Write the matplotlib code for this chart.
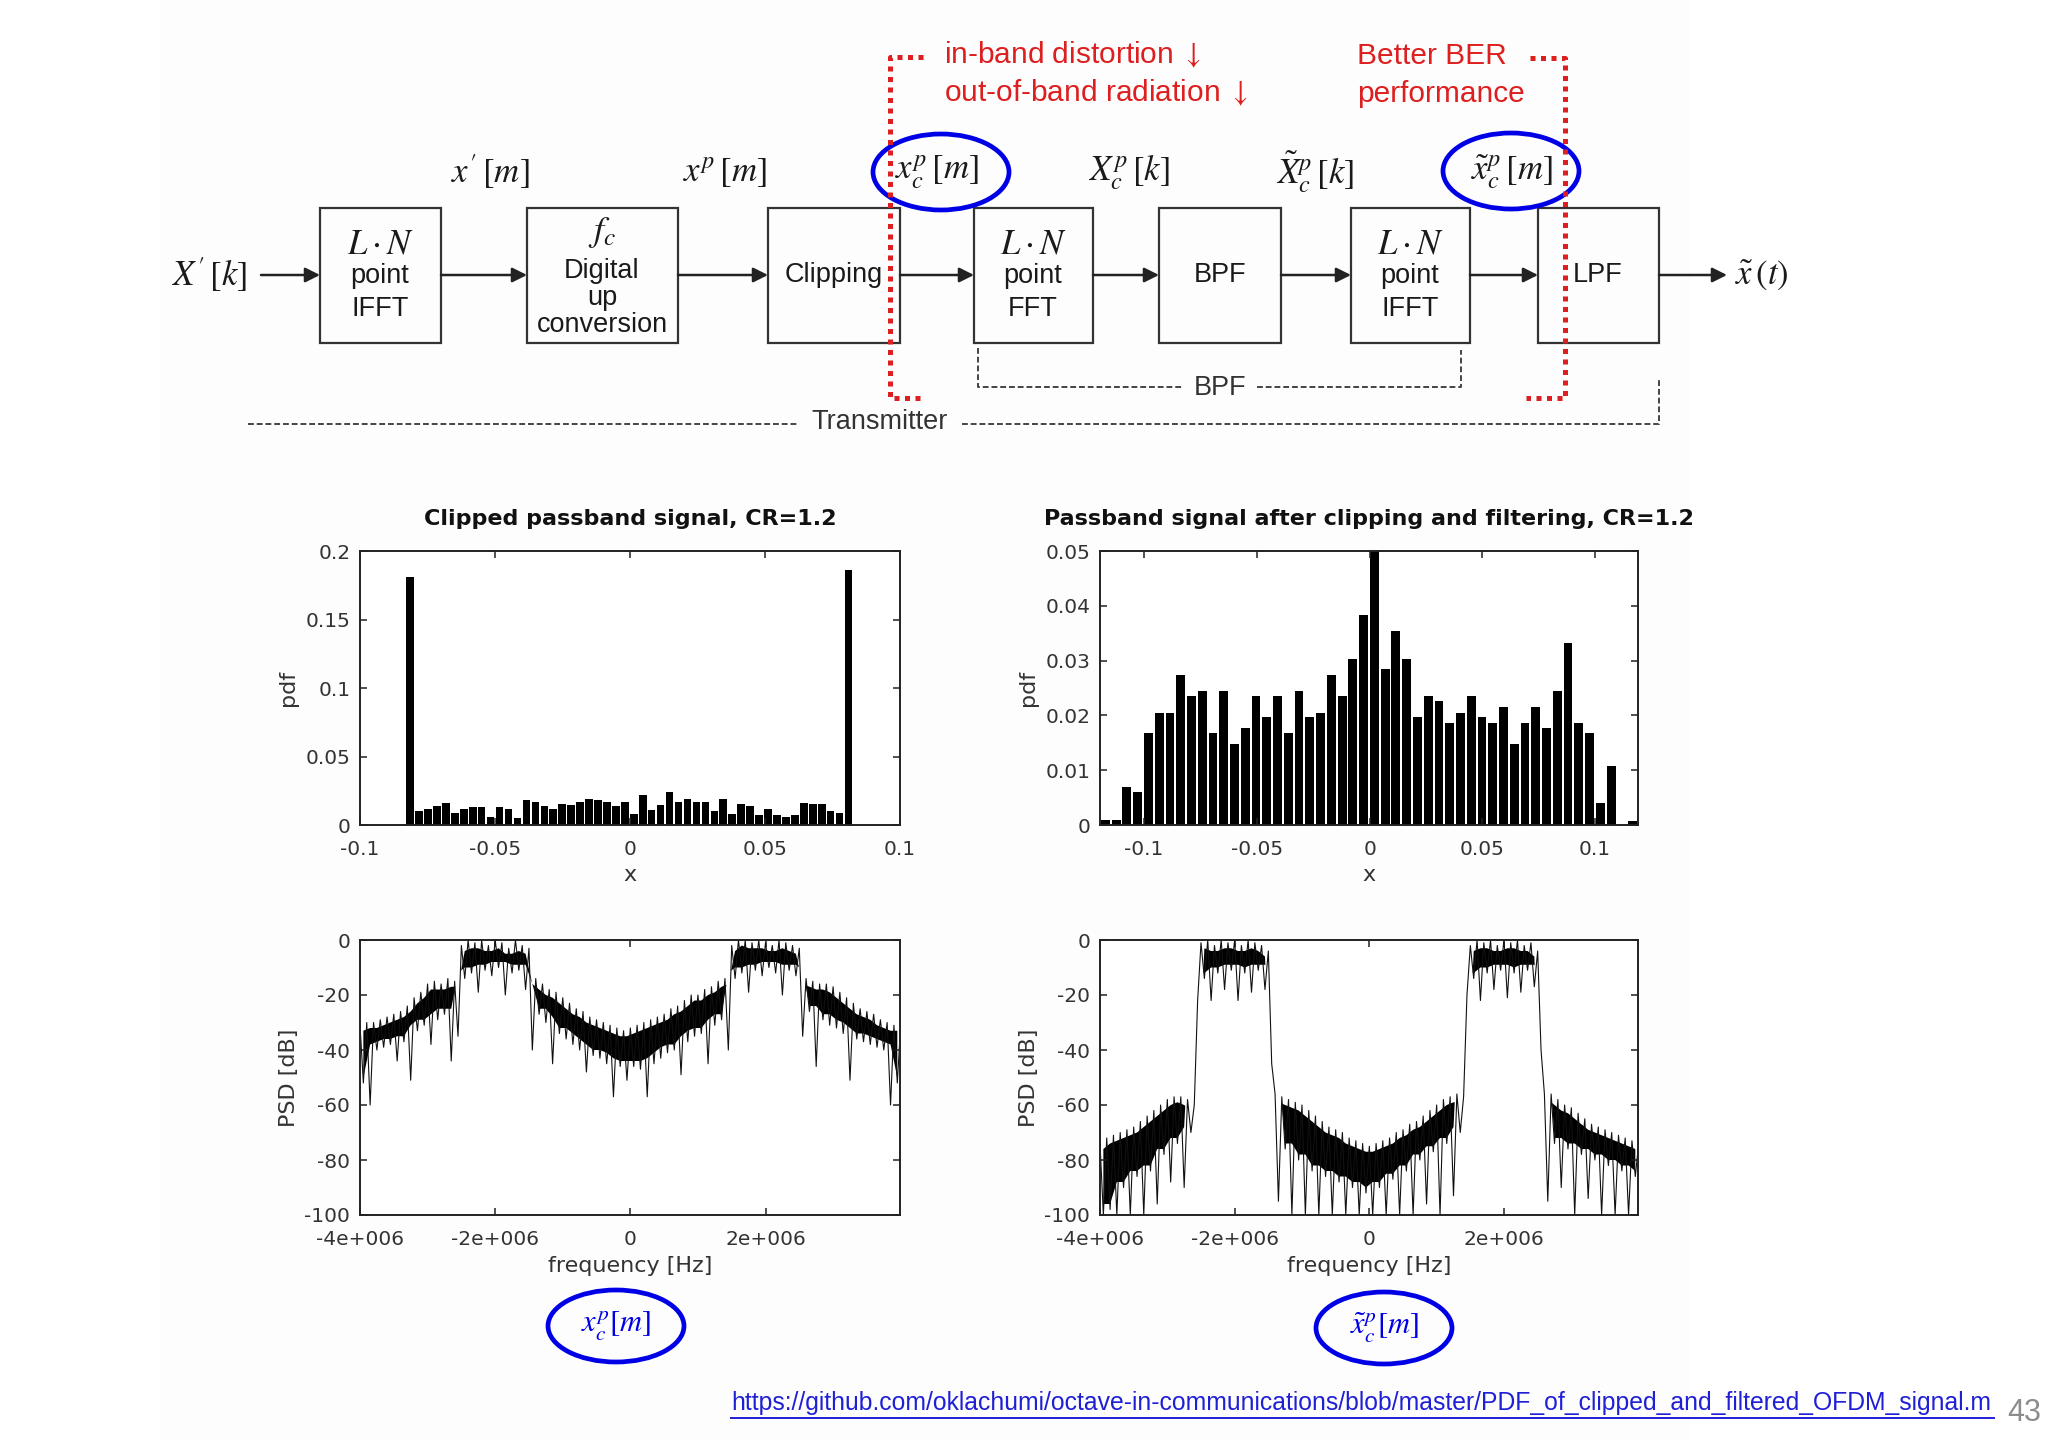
import numpy as np
import matplotlib
matplotlib.use('Agg')
import matplotlib.pyplot as plt
from matplotlib.patches import Rectangle, Ellipse, FancyArrowPatch

plt.rcParams['font.family'] = ['DejaVu Sans']
plt.rcParams['mathtext.fontset'] = 'stix'

# ---------------- data ----------------
# histogram of clipped passband signal (50 bins)
clip_hist_range = (-0.0831, 0.0826)
clip_hist_pdf = [0.181, 0.0101, 0.012, 0.014, 0.016, 0.009, 0.012, 0.013, 0.013, 0.006,
                 0.013, 0.012, 0.005, 0.018, 0.017, 0.014, 0.012, 0.015, 0.0145, 0.017,
                 0.019, 0.018, 0.017, 0.014, 0.017, 0.008, 0.022, 0.011, 0.0145, 0.024,
                 0.017, 0.019, 0.017, 0.017, 0.010, 0.019, 0.008, 0.015, 0.014, 0.007,
                 0.0115, 0.007, 0.006, 0.007, 0.016, 0.015, 0.015, 0.0105, 0.009, 0.186]

# histogram of clipped + filtered passband signal (50 bins)
filt_hist_range = (-0.1195, 0.119)
filt_hist_pdf = [0.001, 0.001, 0.0069, 0.006, 0.0167, 0.0205, 0.0205, 0.0274, 0.0236, 0.0245,
                 0.0167, 0.0245, 0.0148, 0.0177, 0.0236, 0.0197, 0.0236, 0.0167, 0.0245, 0.0197,
                 0.0205, 0.0274, 0.0236, 0.0303, 0.0383, 0.052, 0.0284, 0.0354, 0.0303, 0.0197,
                 0.0236, 0.0226, 0.0186, 0.0205, 0.0236, 0.0197, 0.0186, 0.0215, 0.0148, 0.0186,
                 0.0215, 0.0177, 0.0245, 0.0333, 0.0186, 0.0167, 0.0041, 0.0108, 0.0, 0.0008]

# PSD [dB]: local peaks on a 0.1 MHz grid from -4 MHz, troughs half-way between
psd_f0 = -4.0e6
psd_df = 0.1e6
clip_psd_peak = [-31, -30, -30, -29, -28, -27, -26, -24, -21, -19,
                 -16, -15, -16, -14, -15, -2, 0, -1, 0, -2,
                 0, -1, -3, 0, -2, -3, -14, -16, -18, -19,
                 -21, -23, -25, -26, -28, -29, -30, -31, -32, -33,
                 -32, -31, -30, -29, -28, -27, -25, -24, -22, -20,
                 -20, -18, -17, -15, -14, -2, 0, 0, -1, 0,
                 -1, -2, 0, -1, -2, -3, -14, -15, -16, -16,
                 -17, -19, -21, -23, -25, -26, -27, -29, -30, -31, -31]
clip_psd_trough = [-52, -60, -40, -39, -38, -44, -37, -51, -33, -31,
                   -38, -29, -27, -44, -35, -14, -12, -19, -11, -13,
                   -10, -20, -12, -11, -18, -40, -27, -30, -45, -34,
                   -36, -38, -40, -48, -42, -43, -45, -57, -46, -51,
                   -46, -47, -57, -45, -43, -41, -40, -49, -37, -35,
                   -34, -45, -31, -29, -40, -14, -12, -19, -11, -13,
                   -10, -12, -20, -11, -13, -35, -26, -46, -29, -31,
                   -32, -34, -51, -36, -37, -38, -39, -40, -60, -52]
filt_psd_peak = [-74, -72, -71, -70, -69, -68, -66, -64, -62, -60,
                 -58, -57, -57, -58, -60, -1, 0, -2, 0, -1,
                 0, -2, 0, -1, -2, -4, -56, -57, -58, -59,
                 -60, -62, -64, -66, -68, -69, -70, -72, -73, -74,
                 -75, -74, -73, -72, -70, -69, -67, -66, -64, -62,
                 -60, -58, -57, -56, -57, -2, 0, -1, 0, -2,
                 0, -1, 0, -2, -1, -4, -56, -56, -58, -60,
                 -61, -63, -65, -67, -68, -69, -70, -71, -72, -73, -74]
filt_psd_trough = [-100, -98, -100, -90, -100, -86, -100, -84, -96, -78,
                   -88, -74, -90, -70, -22, -14, -22, -12, -18, -11,
                   -22, -12, -19, -11, -18, -45, -95, -76, -100, -80,
                   -100, -84, -100, -86, -100, -88, -100, -90, -100, -92,
                   -100, -90, -100, -87, -100, -84, -100, -80, -96, -77,
                   -100, -74, -93, -70, -20, -14, -22, -12, -18, -11,
                   -21, -12, -19, -11, -17, -40, -95, -74, -90, -76,
                   -100, -78, -94, -80, -100, -82, -100, -84, -100, -86]

clip_title = 'Clipped passband signal, CR=1.2'
filt_title = 'Passband signal after clipping and filtering, CR=1.2'
url_text = 'https://github.com/oklachumi/octave-in-communications/blob/master/PDF_of_clipped_and_filtered_OFDM_signal.m'

# ---------------- figure ----------------
W, H = 2048, 1447
fig = plt.figure(figsize=(W / 100, H / 100), dpi=100)
fig.patch.set_facecolor('white')

bg = fig.add_axes([0, 0, 1, 1], zorder=0)
bg.set_xlim(0, W)
bg.set_ylim(H, 0)
bg.axis('off')
bg.add_patch(Rectangle((160, 0), 1530, 1440, facecolor='#fdfdfd', edgecolor='none', zorder=0))

TXT = '#1a1a1a'
BOXC = '#333333'
SANS = ['Liberation Sans', 'DejaVu Sans']
BFS = 19.5

boxes = [(320, 441), (527, 678), (768, 900), (974, 1093), (1159, 1281), (1351, 1470), (1538, 1659)]
by0, by1 = 208, 343
for x0, x1 in boxes:
    bg.add_patch(Rectangle((x0, by0), x1 - x0, by1 - by0, fill=False, edgecolor=BOXC, lw=1.6, zorder=2))

ay = 275
arrows = [(261, 320), (441, 527), (678, 768), (900, 974), (1093, 1159), (1281, 1351), (1470, 1538), (1659, 1727)]
for a0, a1 in arrows:
    bg.add_patch(FancyArrowPatch((a0, ay), (a1, ay), arrowstyle='-|>', mutation_scale=22,
                                 color='#222222', lw=1.8, shrinkA=0, shrinkB=0, zorder=3))

def ln_box(cx, bottom_word):
    bg.text(cx, 243, r'$L\cdot N$', ha='center', va='center', fontsize=25, color=TXT)
    bg.text(cx, 276, 'point', ha='center', va='center', fontsize=BFS, color=TXT, family=SANS)
    bg.text(cx, 309, bottom_word, ha='center', va='center', fontsize=BFS, color=TXT, family=SANS)

ln_box(380, 'IFFT')
ln_box(1033, 'FFT')
ln_box(1410, 'IFFT')
bg.text(602, 232, r'$f_c$', ha='center', va='center', fontsize=26, color=TXT)
bg.text(602, 271, 'Digital', ha='center', va='center', fontsize=BFS, color=TXT, family=SANS)
bg.text(602, 298, 'up', ha='center', va='center', fontsize=BFS, color=TXT, family=SANS)
bg.text(602, 325, 'conversion', ha='center', va='center', fontsize=BFS, color=TXT, family=SANS)
bg.text(834, 275, 'Clipping', ha='center', va='center', fontsize=BFS, color=TXT, family=SANS)
bg.text(1220, 275, 'BPF', ha='center', va='center', fontsize=BFS, color=TXT, family=SANS)
bg.text(1598, 275, 'LPF', ha='center', va='center', fontsize=BFS, color=TXT, family=SANS)

bg.text(209, 275, r"$X'\,\left[k\right]$", ha='center', va='center', fontsize=25, color=TXT)
bg.text(1762, 275, r'$\tilde{x}\,\left(t\right)$', ha='center', va='center', fontsize=25, color=TXT)
sig_labels = [(490, r"$x'\,\left[m\right]$"), (725, r'$x^{p}\,\left[m\right]$'),
              (937, r'$x^{p}_{c}\,\left[m\right]$'), (1129, r'$X^{p}_{c}\,\left[k\right]$'),
              (1315, r'$\tilde{X}^{p}_{c}\,\left[k\right]$'), (1512, r'$\tilde{x}^{p}_{c}\,\left[m\right]$')]
for sx, s in sig_labels:
    bg.text(sx, 172, s, ha='center', va='center', fontsize=25, color=TXT)

BLUE = '#0000e6'
for cx, cy in [(941, 172), (1511, 171)]:
    bg.add_patch(Ellipse((cx, cy), 136, 76, fill=False, edgecolor=BLUE, lw=3.4, zorder=5))

# dashed brackets
DASH = dict(color='#444444', lw=1.4, linestyle=(0, (3, 1.5)), zorder=2)
bg.plot([978, 978, 1184], [348, 387, 387], **DASH)
bg.plot([1257, 1461, 1461], [387, 387, 350], **DASH)
bg.text(1220, 388, 'BPF', ha='center', va='center', fontsize=BFS, color='#333333', family=SANS)
bg.plot([248, 797], [424, 424], **DASH)
bg.plot([962, 1659, 1659], [424, 424, 380], **DASH)
bg.text(880, 422, 'Transmitter', ha='center', va='center', fontsize=BFS, color='#333333', family=SANS)

# red dotted brackets
RED = '#dd1f1f'
RDOT = dict(color=RED, lw=3.6, linestyle=(0, (1, 1.1)), solid_capstyle='butt',
            dash_capstyle='butt', zorder=6)
bg.plot([923, 890, 890, 923], [57, 57, 398, 398], **RDOT)
bg.plot([1530, 1565, 1565, 1526], [58, 58, 398, 398], **RDOT)
RFS = 21.5
bg.text(944, 55, r'in-band distortion $\downarrow$', ha='left', va='center', fontsize=RFS, color=RED, family=SANS)
bg.text(944, 93, r'out-of-band radiation $\downarrow$', ha='left', va='center', fontsize=RFS, color=RED, family=SANS)
bg.text(1357, 56, 'Better BER', ha='left', va='center', fontsize=RFS, color=RED, family=SANS)
bg.text(1357, 94, 'performance', ha='left', va='center', fontsize=RFS, color=RED, family=SANS)

# bottom circled labels
for (cx, cy), s in [((616, 1326), r'$x^{p}_{c}[m]$'), ((1384, 1328), r'$\tilde{x}^{p}_{c}[m]$')]:
    bg.add_patch(Ellipse((cx, cy), 136, 72, fill=False, edgecolor=BLUE, lw=3.4, zorder=5))
    bg.text(cx, cy, s, ha='center', va='center', fontsize=22, color=BLUE)

# url + page number
URLC = '#1f1fd6'
bg.text(731, 1403, url_text, ha='left', va='center', fontsize=17.85, color=URLC, family=SANS)
bg.plot([731, 1994], [1418, 1418], color=URLC, lw=1.4)
bg.text(2024, 1413, '43', ha='center', va='center', fontsize=22, color='#8c8c8c', family=SANS)

# ---------------- plots ----------------
TICKC = '#333333'

def style(ax):
    for s in ax.spines.values():
        s.set_linewidth(1.4)
        s.set_color('#222222')
    ax.tick_params(direction='in', top=True, right=True, length=5, width=1.1,
                   color='#222222', labelcolor=TICKC, labelsize=14.5)
    ax.tick_params(axis='x', pad=11)
    ax.tick_params(axis='y', pad=7)
    ax.set_facecolor('white')

def hist(ax, rng, vals, frac):
    vals = np.asarray(vals)
    n = len(vals)
    w = (rng[1] - rng[0]) / n
    centers = rng[0] + w * (np.arange(n) + 0.5)
    ax.bar(centers, vals, width=w * frac, color='black', edgecolor='none')

def psd(ax, peak, trough):
    peak = np.asarray(peak, float)
    trough = np.asarray(trough, float)
    f_pk = psd_f0 + psd_df * np.arange(len(peak))
    f_tr = f_pk[:-1] + psd_df / 2
    upper = np.minimum(peak[:-1], peak[1:]) - 2
    tp = np.concatenate([[trough[0]], trough, [trough[-1]]])
    lower = np.maximum(np.maximum(tp[:-2], tp[1:-1]), tp[2:]) + 2
    ax.fill_between(f_tr, lower, upper, where=upper > lower, color='black', lw=0, interpolate=True)
    x = np.empty(len(peak) + len(trough))
    y = np.empty_like(x)
    x[0::2], x[1::2] = f_pk, f_tr
    y[0::2], y[1::2] = peak, trough
    ax.plot(x, y, color='#111111', lw=0.8)

LFS = 16
ax1 = fig.add_axes([360 / W, 1 - 825 / H, 540 / W, 274 / H], zorder=2)
hist(ax1, clip_hist_range, clip_hist_pdf, 0.85)
ax1.set_xlim(-0.1, 0.1)
ax1.set_ylim(0, 0.2)
ax1.set_xticks([-0.1, -0.05, 0, 0.05, 0.1], ['-0.1', '-0.05', '0', '0.05', '0.1'])
ax1.set_yticks([0, 0.05, 0.1, 0.15, 0.2], ['0', '0.05', '0.1', '0.15', '0.2'])
ax1.set_title(clip_title, fontsize=16, fontweight='bold', pad=19, color='#111111')
ax1.set_xlabel('x', fontsize=LFS, color=TICKC, labelpad=4)
ax1.set_ylabel('pdf', fontsize=LFS, color=TICKC, labelpad=5)
style(ax1)

ax2 = fig.add_axes([1100 / W, 1 - 825 / H, 538 / W, 274 / H], zorder=2)
hist(ax2, filt_hist_range, filt_hist_pdf, 0.82)
ax2.set_xlim(filt_hist_range)
ax2.set_ylim(0, 0.05)
ax2.set_xticks([-0.1, -0.05, 0, 0.05, 0.1], ['-0.1', '-0.05', '0', '0.05', '0.1'])
ax2.set_yticks([0, 0.01, 0.02, 0.03, 0.04, 0.05], ['0', '0.01', '0.02', '0.03', '0.04', '0.05'])
ax2.set_title(filt_title, fontsize=16, fontweight='bold', pad=19, color='#111111')
ax2.set_xlabel('x', fontsize=LFS, color=TICKC, labelpad=4)
ax2.set_ylabel('pdf', fontsize=LFS, color=TICKC, labelpad=5)
style(ax2)

for left, w, peak, trough in [(360, 540, clip_psd_peak, clip_psd_trough),
                              (1100, 538, filt_psd_peak, filt_psd_trough)]:
    ax = fig.add_axes([left / W, 1 - 1215 / H, w / W, 275 / H], zorder=2)
    psd(ax, peak, trough)
    ax.set_xlim(-4.0e6, 3.99e6)
    ax.set_ylim(-100, 0)
    ax.set_xticks([-4e6, -2e6, 0, 2e6], ['-4e+006', '-2e+006', '0', '2e+006'])
    ax.set_yticks([0, -20, -40, -60, -80, -100], ['0', '-20', '-40', '-60', '-80', '-100'])
    ax.set_xlabel('frequency [Hz]', fontsize=LFS, color=TICKC, labelpad=5)
    ax.set_ylabel('PSD [dB]', fontsize=LFS, color=TICKC, labelpad=4)
    style(ax)

fig.savefig('out.png', dpi=100, facecolor='white')
